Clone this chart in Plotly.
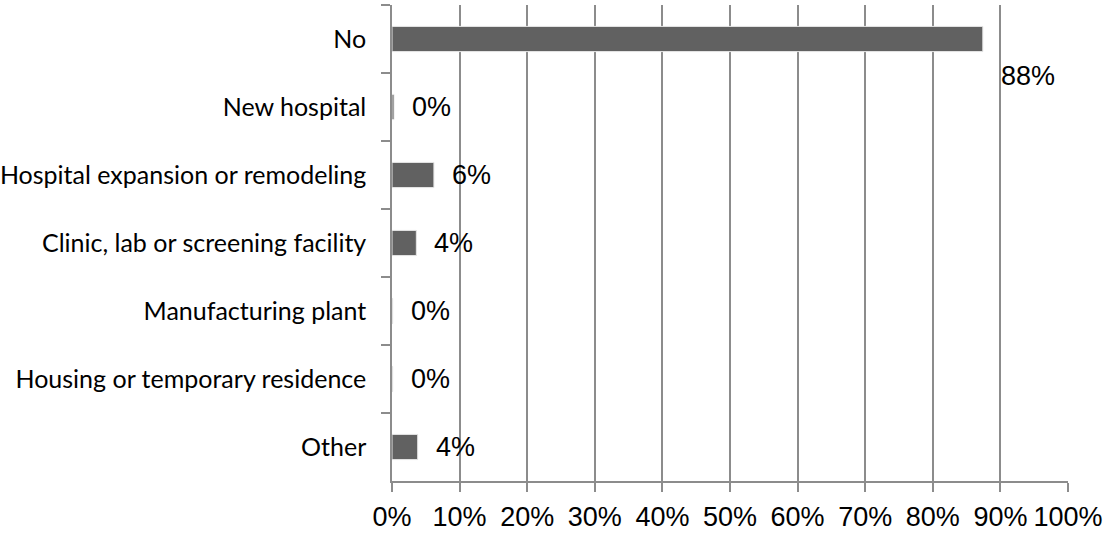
import plotly.graph_objects as go

categories = ["No", "New hospital", "Hospital expansion or remodeling",
              "Clinic, lab or screening facility", "Manufacturing plant",
              "Housing or temporary residence", "Other"]
values = [0.874, 0.003, 0.062, 0.036, 0.001, 0.001, 0.038]
labels = ["88%", "0%", "6%", "4%", "0%", "0%", "4%"]
x_ticks = [i / 10 for i in range(11)]
x_tick_text = [f"{i*10}%" for i in range(11)]

grid = "#8c8c8c"
num_font = dict(family="Liberation Sans, Arial, sans-serif", size=27, color="#000000")

fig = go.Figure()
fig.add_trace(go.Bar(
    y=categories, x=values, orientation="h",
    marker=dict(color="#616161", line=dict(color="#e6e6e6", width=1)),
    width=0.37, hoverinfo="skip",
))

for cat, v, t in zip(categories, values, labels):
    fig.add_annotation(
        x=v, y=cat, text=t, showarrow=False, xanchor="left",
        xshift=16, yshift=(-37 if cat == "No" else 0),
        font=num_font,
    )

fig.update_layout(
    width=1104, height=538, autosize=False,
    margin=dict(l=392, r=36, t=5, b=57, autoexpand=False),
    paper_bgcolor="white", plot_bgcolor="white",
    showlegend=False,
    xaxis=dict(
        range=[0, 1], autorange=False, tickvals=x_ticks, ticktext=x_tick_text,
        showgrid=True, gridcolor=grid, gridwidth=1.5,
        showline=True, linecolor=grid, linewidth=1.5,
        ticks="outside", ticklen=9, tickcolor=grid, tickwidth=1.5,
        tickfont=num_font, automargin=False,
        ticklabelstandoff=2, zeroline=False, fixedrange=True,
    ),
    yaxis=dict(
        categoryorder="array", categoryarray=categories,
        range=[len(categories) - 0.5, -0.5], autorange=False,
        showgrid=False, showline=True, linecolor=grid, linewidth=1.5,
        ticks="outside", ticklen=9, tickcolor=grid, tickwidth=1.5,
        tickson="boundaries", automargin=False,
        tickfont=dict(family="Lato, Carlito, sans-serif", size=25, color="#000000"),
        ticklabelstandoff=19, fixedrange=True,
    ),
)

fig.write_html("out.html", config={"displayModeBar": False},
               post_script="document.body.style.margin='0px';")
